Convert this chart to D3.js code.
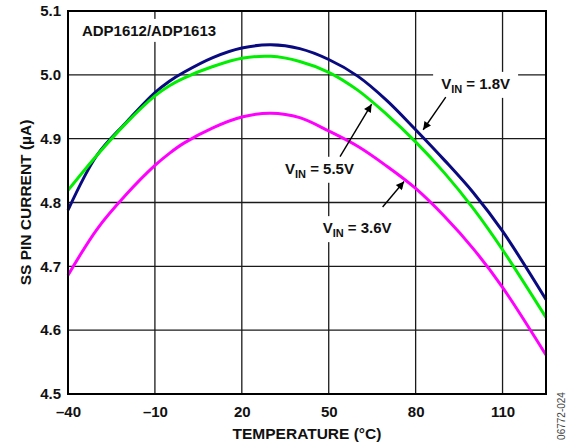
<!DOCTYPE html>
<html>
<head>
<meta charset="utf-8">
<script src="https://cdn.jsdelivr.net/npm/d3@7"></script>
<style>
  body { margin: 0; background: #fff; }
  svg { display: block; }
  text { font-family: "Liberation Sans", Arial, Helvetica, sans-serif; font-weight: bold; fill: #111; }
</style>
</head>
<body>
<div class="chart"></div>
<script>
// SS pin current vs. temperature, three supply voltages
const temps = [-40, -30, -20, -10, -5, 0, 10, 20, 30, 40, 50, 60, 70, 80, 90, 100, 110, 125];
const vin18 = [4.788, 4.874, 4.925, 4.972, 4.990, 5.004, 5.027, 5.042, 5.047, 5.041, 5.024, 4.998, 4.960, 4.914, 4.866, 4.815, 4.755, 4.648];
const vin55 = [4.819, 4.874, 4.924, 4.967, 4.983, 4.995, 5.013, 5.026, 5.029, 5.021, 5.004, 4.976, 4.938, 4.895, 4.846, 4.790, 4.726, 4.620];
const vin36 = [4.686, 4.758, 4.812, 4.858, 4.877, 4.893, 4.917, 4.934, 4.940, 4.933, 4.912, 4.888, 4.857, 4.822, 4.778, 4.727, 4.667, 4.561];

const xTicks = [-40, -10, 20, 50, 80, 110];
const yTicks = [4.5, 4.6, 4.7, 4.8, 4.9, 5.0, 5.1];

const series = [
  {name: "1.8V", values: vin18, color: "#0a0a80"},
  {name: "5.5V", values: vin55, color: "#00ee00"},
  {name: "3.6V", values: vin36, color: "#ff00ff"}
];

// callouts: label anchor and arrow tail/tip, in data units
const callouts = [
  {v: "1.8V", lx: 88.8, ly: 4.978, from: [90.4, 4.965], to: [82.6, 4.914]},
  {v: "5.5V", lx: 34.9, ly: 4.845, from: [53.9, 4.872], to: [64.8, 4.954]},
  {v: "3.6V", lx: 47.9, ly: 4.752, from: [68.6, 4.793], to: [76.0, 4.833]}
];

const margin = {top: 11, right: 25, bottom: 54, left: 68},
      width = 571 - margin.left - margin.right,
      height = 448 - margin.top - margin.bottom;

const svg = d3.select(".chart").append("svg")
    .attr("width", 571)
    .attr("height", 448);

svg.append("defs").append("marker")
    .attr("id", "head")
    .attr("viewBox", "0 0 10 10")
    .attr("refX", 10).attr("refY", 5)
    .attr("markerWidth", 10).attr("markerHeight", 8)
    .attr("markerUnits", "userSpaceOnUse")
    .attr("orient", "auto")
  .append("path")
    .attr("d", "M0,0L10,5L0,10z")
    .attr("fill", "#000");

const g = svg.append("g")
    .attr("transform", "translate(" + margin.left + "," + margin.top + ")");

const x = d3.scaleLinear().domain([-40, 125]).range([0, width]);
const y = d3.scaleLinear().domain([4.5, 5.1]).range([height, 0]);

// grid
g.selectAll(".vgrid")
    .data(xTicks.slice(1))
    .enter().append("line")
    .attr("x1", d => x(d)).attr("x2", d => x(d))
    .attr("y1", 0).attr("y2", height)
    .attr("stroke", "#1a1a1a").attr("stroke-width", 1.3);

g.selectAll(".hgrid")
    .data(yTicks.slice(1, -1))
    .enter().append("line")
    .attr("x1", 0).attr("x2", width)
    .attr("y1", d => y(d)).attr("y2", d => y(d))
    .attr("stroke", "#1a1a1a").attr("stroke-width", 1.3);

// axes (labels only, frame drawn separately)
const fmt = d => d < 0 ? "\u2013" + Math.abs(d) : String(d);

const xAxis = g.append("g")
    .attr("transform", "translate(0," + height + ")")
    .call(d3.axisBottom(x).tickValues(xTicks).tickFormat(fmt).tickSize(0).tickPadding(12));
const yAxis = g.append("g")
    .call(d3.axisLeft(y).tickValues(yTicks).tickFormat(d3.format(".1f")).tickSize(0).tickPadding(7));
[xAxis, yAxis].forEach(a => {
  a.select(".domain").remove();
  a.selectAll("text").attr("font-size", 15).attr("font-family", null).attr("fill", "#111");
});

// text layer with white boxes that cut the grid
const labels = g.append("g");
const boxes = labels.append("g");

const title = labels.append("text")
    .attr("x", x(-35.2)).attr("y", y(5.061))
    .attr("font-size", 15)
    .text("ADP1612/ADP1613");

const calloutText = labels.selectAll(".callout")
    .data(callouts)
    .enter().append("text")
    .attr("class", "callout")
    .attr("x", d => x(d.lx)).attr("y", d => y(d.ly))
    .attr("font-size", 15);
calloutText.append("tspan").text("V");
calloutText.append("tspan").attr("font-size", 11).attr("dy", 4).text("IN");
calloutText.append("tspan").attr("dy", -4).text(d => "\u00a0= " + d.v);

labels.selectAll("text").each(function () {
  const b = this.getBBox();
  boxes.append("rect")
      .attr("x", b.x - 8).attr("y", b.y - 3)
      .attr("width", b.width + 16).attr("height", b.height + 6)
      .attr("fill", "#fff");
});

// curves
const line = d3.line()
    .x((d, i) => x(temps[i]))
    .y(d => y(d))
    .curve(d3.curveCatmullRom.alpha(0.5));

g.selectAll(".curve")
    .data(series)
    .enter().append("path")
    .attr("d", d => line(d.values))
    .attr("fill", "none")
    .attr("stroke", d => d.color)
    .attr("stroke-width", 3);

// arrows
g.selectAll(".arrow")
    .data(callouts)
    .enter().append("line")
    .attr("x1", d => x(d.from[0])).attr("y1", d => y(d.from[1]))
    .attr("x2", d => x(d.to[0])).attr("y2", d => y(d.to[1]))
    .attr("stroke", "#000").attr("stroke-width", 1.4)
    .attr("marker-end", "url(#head)");

// frame
g.append("rect")
    .attr("width", width).attr("height", height)
    .attr("fill", "none")
    .attr("stroke", "#000").attr("stroke-width", 2);

// axis titles
svg.append("text")
    .attr("x", margin.left + width / 2).attr("y", 439)
    .attr("text-anchor", "middle")
    .attr("font-size", 15.5)
    .text("TEMPERATURE (\u00b0C)");

svg.append("text")
    .attr("transform", "translate(31," + (margin.top + height / 2) + ") rotate(-90)")
    .attr("text-anchor", "middle")
    .attr("font-size", 15.5)
    .text("SS PIN CURRENT (\u00b5A)");

svg.append("text")
    .attr("transform", "translate(565,416) rotate(-90)")
    .attr("text-anchor", "middle")
    .attr("font-size", 10)
    .style("font-weight", "normal")
    .style("fill", "#444")
    .text("06772-024");
</script>
</body>
</html>
